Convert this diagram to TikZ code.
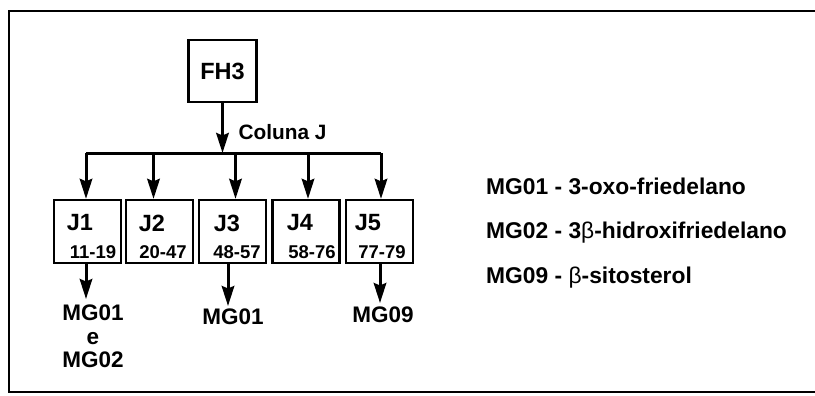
\documentclass[tikz,border=0pt]{standalone}
\usepackage{fontspec}
\setmainfont{Liberation Sans}
\usetikzlibrary{arrows.meta}
\begin{document}
\begin{tikzpicture}[x=1pt,y=-1pt,
  frame/.style={line width=1.8pt},
  fbox/.style={draw, line width=2.3pt, minimum width=67pt, minimum height=63pt, inner sep=0pt},
  arr/.style={line width=3pt, -{Stealth[length=20pt,width=12.5pt,inset=2.5pt]}},
  busline/.style={line width=3pt},
  lbl/.style={font=\fontsize{23.5}{26}\selectfont\bfseries, inner sep=0pt},
  rng/.style={font=\fontsize{18.5}{20}\selectfont\bfseries, inner sep=0pt},
  prod/.style={font=\fontsize{22.5}{23.5}\selectfont\bfseries, align=center, inner sep=0pt, anchor=north},
  leg/.style={font=\fontsize{22.8}{25}\selectfont\bfseries, anchor=west, inner sep=0pt}
]
\useasboundingbox (0,0) rectangle (815,396);

% open frame: top, left and bottom sides
\draw[frame] (815,11) -- (9,11) -- (9,392) -- (815,392);

% starting fraction
\node[fbox, minimum width=68pt, minimum height=62pt] (fh3) at (222.5,71) {};
\node[lbl] (fh3t) at (fh3.center) {FH3};

% distribution bus
\coordinate (busL) at (86,153);
\coordinate (busR) at (381,153);
\draw[busline] (busL) -- (busR);
\draw[arr] (fh3.south) -- (fh3.south |- busL);
\node[font=\fontsize{20.8}{23}\selectfont\bfseries, inner sep=0pt] (col) at (282.5,132) {Coluna J};

% sub-fractions
\node[fbox] (j1) at (87.5,231.5) {};
\node[fbox] (j2) at (159.5,231.5) {};
\node[fbox] (j3) at (232.5,231.5) {};
\node[fbox] (j4) at (306,231.5) {};
\node[fbox] (j5) at (379.5,231.5) {};

\node[lbl] at (80,223) {J1};   \node[rng] at (93,252) {11-19};
\node[lbl] at (152,223) {J2};  \node[rng] at (163,252) {20-47};
\node[lbl] at (227,223) {J3};  \node[rng] at (237,252) {48-57};
\node[lbl] at (300,223) {J4};  \node[rng] at (312,252) {58-76};
\node[lbl] at (368,223) {J5};  \node[rng] at (382,252) {77-79};

% branches from the bus
\draw[arr] ([xshift=-1.5pt]j1.north |- busL) -- ([xshift=-1.5pt]j1.north);
\draw[arr] ([xshift=-6pt]j2.north |- busL) -- ([xshift=-6pt]j2.north);
\draw[arr] ([xshift=3pt]j3.north |- busL) -- ([xshift=3pt]j3.north);
\draw[arr] ([xshift=2pt]j4.north |- busL) -- ([xshift=2pt]j4.north);
\draw[arr] ([xshift=1.5pt]j5.north |- busL) -- ([xshift=1.5pt]j5.north);

% isolated compounds
\node[prod] (p1) at (93,305) {MG01\\e\\MG02};
\node[prod] (p3) at (233,309) {MG01};
\node[prod] (p5) at (383,307) {MG09};
\draw[arr] ([xshift=-1.5pt]j1.south) -- ([xshift=-1.5pt]j1.south |- 0,299);
\draw[arr] ([xshift=-4.5pt]j3.south) -- ([xshift=-4.5pt]j3.south |- 0,306);
\draw[arr] ([xshift=0.5pt]j5.south) -- ([xshift=0.5pt]j5.south |- 0,303);

% legend
\node[leg] (l1) at (486,186) {MG01 - 3-oxo-friedelano};
\node[leg] (l2) at (486,233) {MG02 - 3{\mdseries β}-hidroxifriedelano};
\node[leg] (l3) at (486,278) {MG09 - {\mdseries β}-sitosterol};
\end{tikzpicture}
\end{document}
